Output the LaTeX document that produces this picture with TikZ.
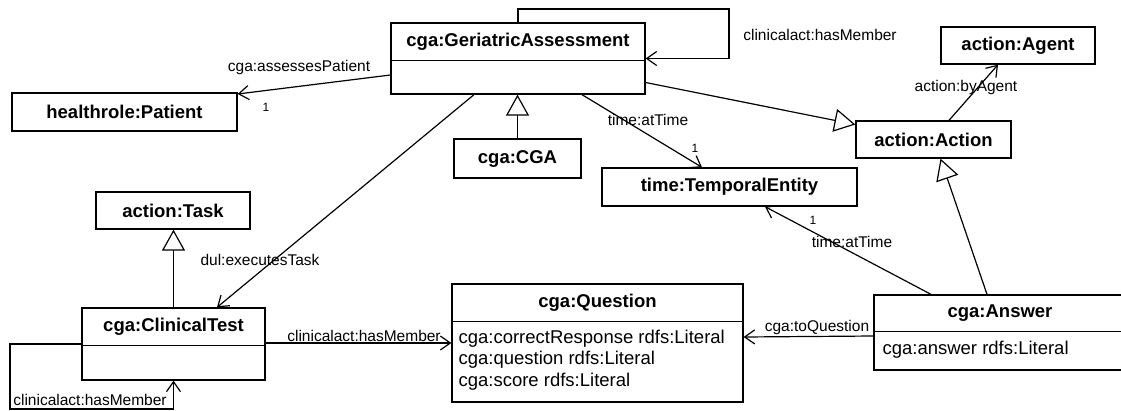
\documentclass[tikz,border=0pt]{standalone}
\usepackage{fontspec}
\setmainfont{Liberation Sans}
\usetikzlibrary{arrows.meta}
\begin{document}
\begin{tikzpicture}[x=1pt,y=-1pt,
  cls/.style={draw, line width=1.3pt, fill=white, inner sep=0pt,
    font=\fontsize{18.5}{21.5}\selectfont\bfseries},
  ttl/.style={inner sep=0pt, font=\fontsize{18.5}{21.5}\selectfont\bfseries},
  attr/.style={inner sep=0pt, anchor=west, text height=13pt, text depth=4pt,
    font=\fontsize{18.5}{21.5}\selectfont},
  lbl/.style={inner sep=0pt, font=\fontsize{15.5}{18}\selectfont},
  mult/.style={inner sep=0pt, font=\fontsize{12}{14}\selectfont},
  assoc/.style={line width=1.2pt, -{Straight Barb[length=10pt,width=14pt,line width=1.2pt]}},
  gen/.style={line width=1.2pt, -{Triangle[open,length=21pt,width=23pt,line width=1.2pt,fill=white]}},
  divider/.style={line width=1.3pt}
]
\useasboundingbox (0,0) rectangle (1121,410);

% ---------- classes ----------
\node[cls, minimum width=254pt, minimum height=71pt] (ga) at (518,58.5) {};
\node[ttl] (gaT) at ([yshift=-19pt]ga.north) {cga:GeriatricAssessment};
\draw[divider] ([yshift=-38pt]ga.north west) -- ([yshift=-38pt]ga.north east);

\node[cls, minimum width=225pt, minimum height=38pt] (patient) at (124.5,112) {healthrole:Patient};
\node[cls, minimum width=154pt, minimum height=37pt] (agent) at (1018,45.5) {action:Agent};
\node[cls, minimum width=155pt, minimum height=37pt] (action) at (933.5,139.5) {action:Action};
\node[cls, minimum width=127pt, minimum height=39pt] (cga) at (517.5,158.5) {cga:CGA};
\node[cls, minimum width=255pt, minimum height=38pt] (temporal) at (729.5,187) {time:TemporalEntity};
\node[cls, minimum width=154pt, minimum height=37pt] (task) at (173,210.5) {action:Task};

\node[cls, minimum width=183pt, minimum height=72pt] (clinical) at (173.5,344) {};
\node[ttl] (clinicalT) at ([yshift=-19pt]clinical.north) {cga:ClinicalTest};
\draw[divider] ([yshift=-38pt]clinical.north west) -- ([yshift=-38pt]clinical.north east);

\node[cls, minimum width=291pt, minimum height=118pt] (question) at (597.5,343) {};
\node[ttl] (questionT) at ([yshift=-19pt]question.north) {cga:Question};
\draw[divider] ([yshift=-38pt]question.north west) -- ([yshift=-38pt]question.north east);
\node[attr] (qa1) at ([xshift=7pt,yshift=-56pt]question.north west) {cga:correctResponse rdfs:Literal};
\node[attr] (qa2) at ([xshift=7pt,yshift=-77pt]question.north west) {cga:question rdfs:Literal};
\node[attr] (qa3) at ([xshift=7pt,yshift=-99pt]question.north west) {cga:score rdfs:Literal};

\node[cls, minimum width=252pt, minimum height=75pt] (answer) at (1000,332.5) {};
\node[ttl] (answerT) at ([yshift=-18.5pt]answer.north) {cga:Answer};
\draw[divider] ([yshift=-37pt]answer.north west) -- ([yshift=-37pt]answer.north east);
\node[attr] (aa1) at ([xshift=9pt,yshift=-56pt]answer.north west) {cga:answer rdfs:Literal};

% ---------- bend points of the self associations ----------
\coordinate (gaLoop) at (729,9);
\coordinate (ctLoop) at (10,409);

% ---------- associations ----------
\draw[assoc] (ga.north) |- (gaLoop) |- (ga.east);
\node[lbl] (lLoopGA) at (820,35) {clinicalact:hasMember};

\draw[assoc] ([yshift=-16.5pt]ga.west) -- ([yshift=18pt]patient.east);
\node[lbl] (lPatient) at (299,67) {cga:assessesPatient};
\node[mult] (mPatient) at (266,107) {1};

\draw[assoc] ([xshift=64pt]ga.south) -- ([xshift=-27.5pt]temporal.north);
\node[lbl] (lTime1) at (648,120) {time:atTime};
\node[mult] (mTime1) at (695,148) {1};

\draw[assoc] ([xshift=-44pt]ga.south) -- ([xshift=43.5pt]clinical.north);
\node[lbl] (lExec) at (260,260) {dul:executesTask};

\draw[assoc] ([xshift=15.5pt]action.north) -- ([xshift=-20pt]agent.south);
\node[lbl] (lAgent) at (966,87) {action:byAgent};

\draw[assoc] (clinical.west) -| (ctLoop) -| (clinical.south);
\node[lbl] (lLoopCT) at (90,400) {clinicalact:hasMember};

\draw[assoc] ([yshift=1pt]clinical.east) -- ([yshift=1pt]clinical.east -| question.west);
\node[lbl] (lMember) at (364,336) {clinicalact:hasMember};

\draw[assoc] ([yshift=-3.5pt]answer.west) -- ([yshift=6pt]question.east);
\node[lbl] (lToQ) at (817,327) {cga:toQuestion};

\draw[assoc] ([xshift=-69pt]answer.north) -- ([xshift=35.5pt]temporal.south);
\node[lbl] (lTime2) at (852,242) {time:atTime};
\node[mult] (mTime2) at (813,220) {1};

% ---------- generalizations ----------
\draw[gen] ([yshift=-24pt]ga.east) -- ([yshift=15pt]action.west);
\draw[gen] (cga.north) -- (cga.north |- ga.south);
\draw[gen] (clinical.north) -- (clinical.north |- task.south);
\draw[gen] ([xshift=-13pt]answer.north) -- ([xshift=7pt]action.south);
\end{tikzpicture}
\end{document}
